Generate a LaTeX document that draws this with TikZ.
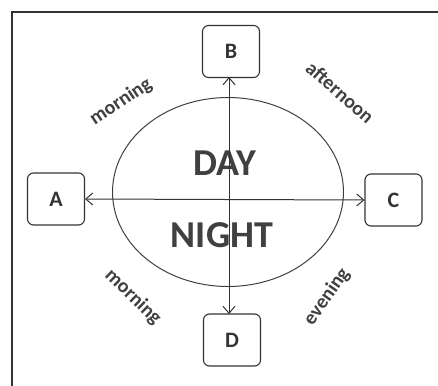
\documentclass[tikz,border=0pt]{standalone}
\usepackage{fontspec}
\setmainfont{Carlito}
\usetikzlibrary{arrows.meta}
\tikzset{
  box/.style={draw=black!80, line width=1.1pt, rounded corners=6pt, minimum width=57pt, minimum height=52pt, inner sep=0pt, font=\fontsize{22}{24}\selectfont\bfseries, text=black!80},
  big/.style={font=\fontsize{38}{40}\selectfont\bfseries, text=black!75, inner sep=0pt},
  lab/.style={font=\fontsize{20}{22}\selectfont\bfseries, text=black!75, inner sep=0pt},
  conn/.style={draw=black!80, line width=1pt, {Straight Barb[length=7pt,width=12pt]}-{Straight Barb[length=7pt,width=12pt]}}
}
\begin{document}
\begin{tikzpicture}[x=1pt,y=-1pt]
\useasboundingbox (0,0) rectangle (438,385);
\begin{scope}
\clip (0,0) rectangle (438,385);
\fill[white] (0,0) rectangle (438,385);
\draw[black!80, line width=1.8pt] (12,12) rectangle (450,400);
\end{scope}
\draw[black!75, line width=1pt] (228,192) ellipse [x radius=115.5pt, y radius=94.5pt];
\node[box] (B) at (231,51.5) {B};
\node[box] (A) at (56,199) {A};
\node[box] (C) at (393.5,200) {C};
\node[box] (D) at (232,340) {D};
\node[big] (day) at (225,163) {DAY};
\node[big] (night) at (222,235) {NIGHT};
\draw[conn] (A.east) -- (C.west);
\coordinate (top) at (229,77);
\coordinate (bot) at (229,314);
\draw[conn] (top) -- (bot);
\node[lab, rotate=34] (m1) at (121,102) {morning};
\node[lab, rotate=-41] (af) at (340,92) {afternoon};
\node[lab, rotate=-44] (m2) at (133,297) {morning};
\node[lab, rotate=55] (ev) at (327,297) {evening};
\end{tikzpicture}
\end{document}
